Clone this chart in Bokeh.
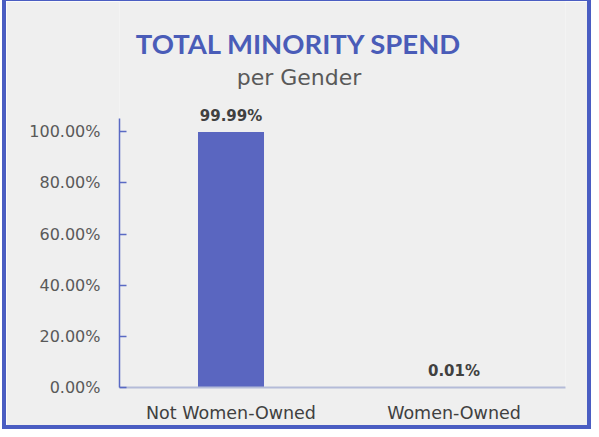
from bokeh.plotting import figure
from bokeh.models import Label, NumeralTickFormatter, FixedTicker, Range1d, ColumnDataSource
from bokeh.core.properties import value
from bokeh.embed import file_html
from bokeh.resources import INLINE

categories = ["Not Women-Owned", "Women-Owned"]
shares = [0.9999, 0.0001]
share_labels = ["99.99%", "0.01%"]
y_ticks = [0.0, 0.2, 0.4, 0.6, 0.8, 1.0]

title_text = "TOTAL MINORITY SPEND"
subtitle_text = "per Gender"

src = ColumnDataSource(dict(cat=categories, val=shares, lab=share_labels))

p = figure(x_range=categories, y_range=Range1d(0, 1.510),
           width=581, height=424, output_backend="svg", toolbar_location=None,
           min_border_left=113, min_border_right=22, min_border_top=0, min_border_bottom=36)
p.title = None
p.styles = {"outline": "4px solid #4a5dc2", "box-shadow": "0 0 0 4px #4a5dc2",
            "margin-top": "1px", "margin-left": "6px", "margin-bottom": "-4px"}
p.background_fill_color = "#efefef"
p.border_fill_color = "#efefef"
p.outline_line_color = None
p.xgrid.grid_line_color = None
p.ygrid.grid_line_color = None
p.x_range.range_padding = 0

p.vbar(x="cat", top="val", width=0.296, bottom=0, source=src, fill_color="#5a66c0", line_color=None)
p.text(x="cat", y="val", text="lab", source=src, text_align="center", text_baseline="alphabetic",
       y_offset=-16, text_font=value("DejaVu Sans"), text_font_size="15px", text_font_style="bold",
       text_color="#404040")

ya = p.yaxis[0]
ya.bounds = (0, 1.051)
ya.ticker = FixedTicker(ticks=y_ticks)
ya.formatter = NumeralTickFormatter(format="0.00%")
ya.axis_line_color = "#5a6ac4"
ya.axis_line_width = 1.5
ya.major_tick_in = 7
ya.major_tick_out = 0
ya.major_tick_line_color = "#5a6ac4"
ya.major_tick_line_width = 1.5
ya.minor_tick_line_color = None
ya.major_label_standoff = 19
ya.major_label_text_font = "DejaVu Sans"
ya.major_label_text_font_size = "16px"
ya.major_label_text_color = "#595959"

xa = p.xaxis[0]
xa.axis_line_color = "#b4bbd8"
xa.axis_line_width = 2
xa.major_tick_line_color = None
xa.minor_tick_line_color = None
xa.major_tick_in = 0
xa.major_tick_out = 0
xa.major_label_standoff = 15
xa.major_label_text_font = "DejaVu Sans"
xa.major_label_text_font_size = "17.5px"
xa.major_label_text_color = "#404040"

p.add_layout(Label(x=179.5, y=1.346, x_units="screen", y_units="data", text=title_text,
                   text_align="center", text_baseline="alphabetic", text_font="Lato",
                   text_font_style="bold", text_font_size="27.5px", text_color="#4a5cb8"))
p.add_layout(Label(x=179.5, y=1.214, x_units="screen", y_units="data", text=subtitle_text,
                   text_align="center", text_baseline="alphabetic", text_font="DejaVu Sans",
                   text_font_size="22px", text_color="#595959"))

open("out.html", "w").write(file_html(p, INLINE))
